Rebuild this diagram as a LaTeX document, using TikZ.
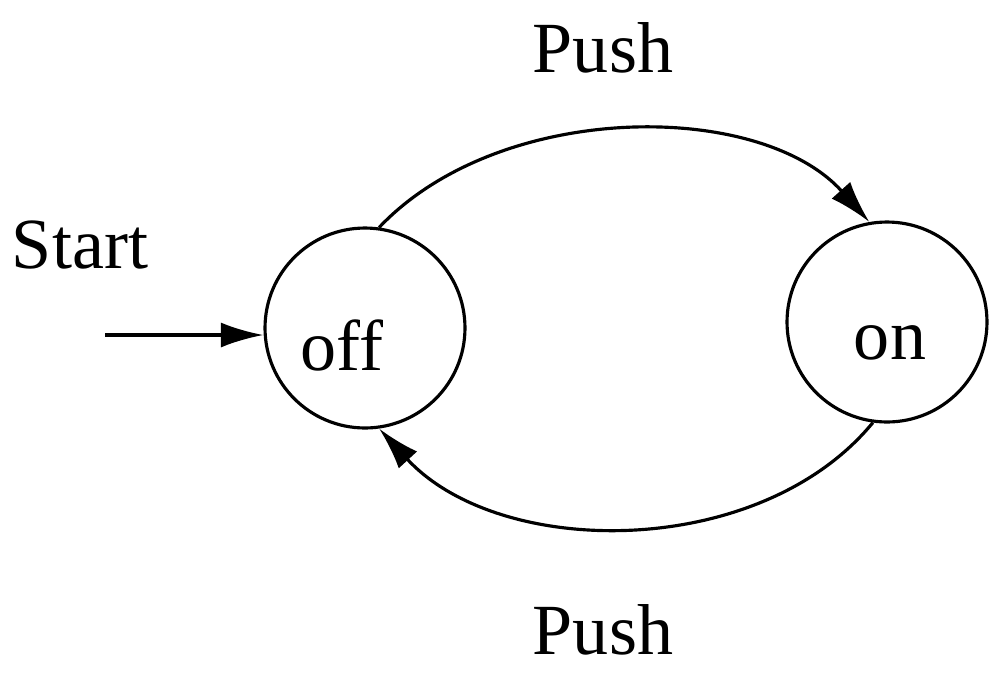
\documentclass[tikz,border=0pt]{standalone}
\usepackage{fontspec}
\setmainfont{Liberation Serif}
\usetikzlibrary{arrows.meta}
\begin{document}
\begin{tikzpicture}[x=0.02cm,y=-0.02cm,
  st/.style={circle,draw,line width=1.8pt,minimum size=4cm,inner sep=0pt},
  lbl/.style={font=\fontsize{41}{48}\selectfont},
  tr/.style={line width=1.8pt,-{Latex[length=0.85cm,width=0.5cm]}}]
\useasboundingbox (0,0) rectangle (1004,674);
\node[st] (off) at (365,328) {};
\node[lbl] at (342,345) {off};
\node[st] (on) at (887,322) {};
\node[lbl] at (890,343) {on};
\node[lbl] (p1) at (603,48) {Push};
\node[lbl] (p2) at (603,630) {Push};
\node[lbl] (s) at (80,245) {Start};
\coordinate (st) at (105,335);
\draw[tr] (st) -- (off.west |- st);
\draw[tr] (off.82) .. controls (500,100) and (760,100) .. (on.100);
\draw[tr] (on.-98) .. controls (760,560) and (500,560) .. (off.-82);
\end{tikzpicture}
\end{document}
